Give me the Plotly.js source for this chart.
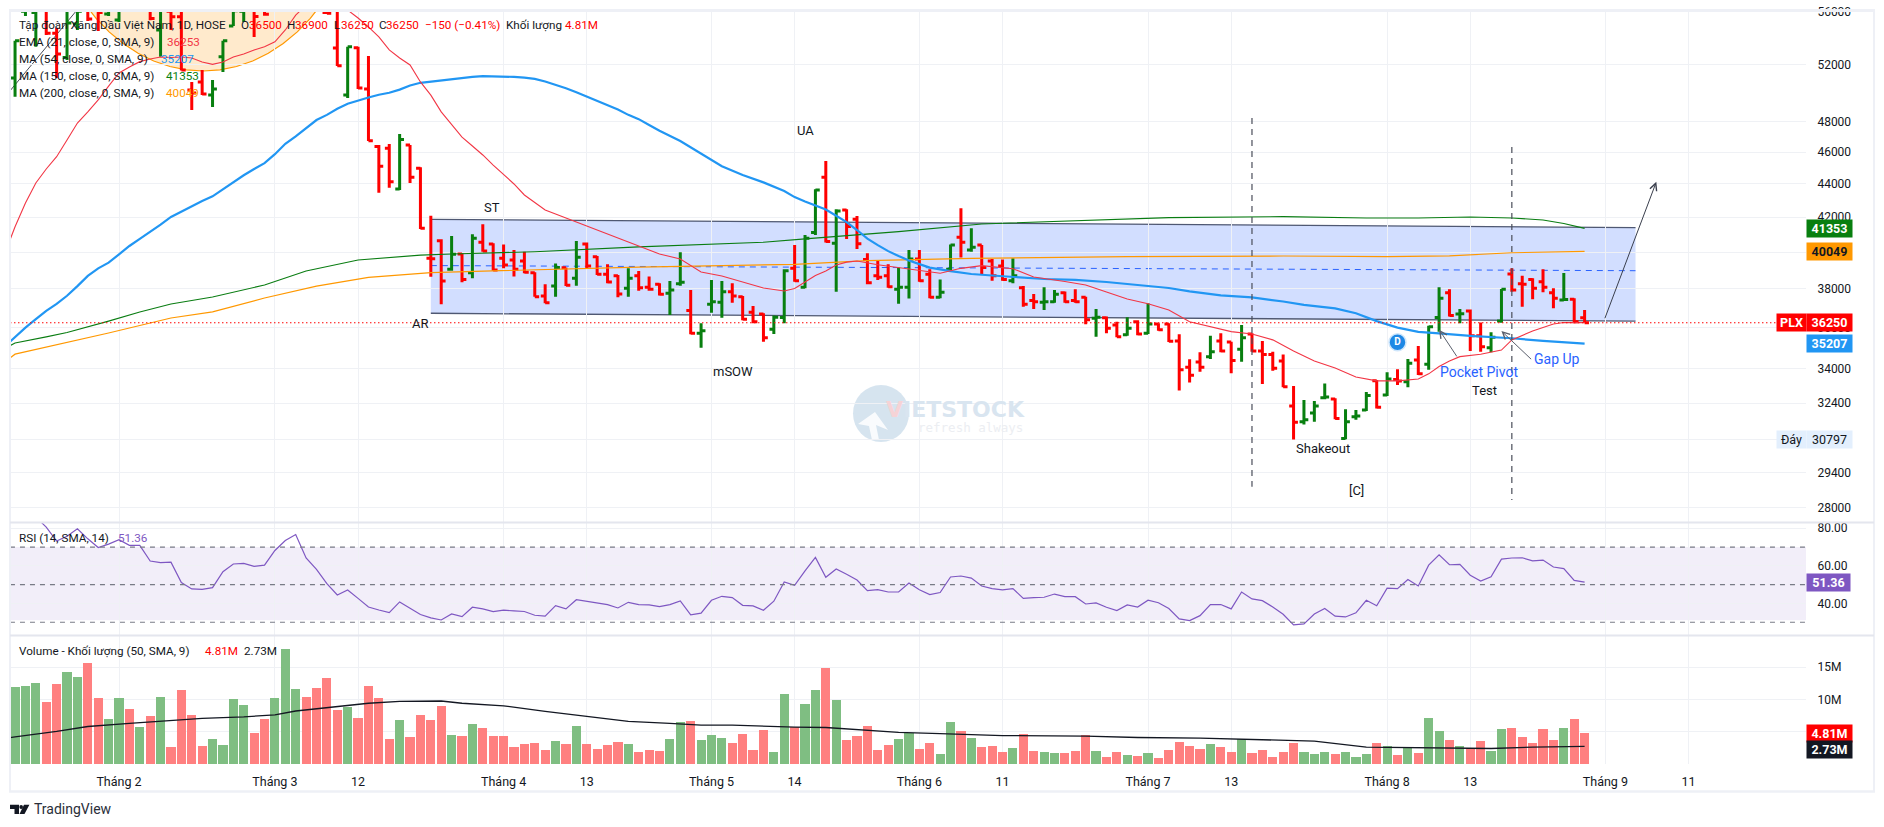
<!DOCTYPE html>
<html><head><meta charset="utf-8">
<script src="https://cdn.plot.ly/plotly-3.0.1.min.js"></script>
<style>html,body{margin:0;padding:0;background:#fff;overflow:hidden}#c{width:1884px;height:827px}</style>
</head><body><div id="c"></div>
<script>
const opens=[51020,56000,55900,57000,54320,52500,55010,57500,57500,55800,55330,57800,57000,57000,54560,56000,55570,50170,50740,49830,
52560,54860,56000,57000,57300,57800,57500,57500,57300,57000,55900,53200,49830,53220,50240,46360,46250,43690,46470,44970,
39660,40650,39060,39900,38870,40560,40460,39660,39570,39510,38870,37630,38150,39140,38570,40460,39750,38790,38710,38030,
38710,38090,38250,37770,38270,36870,35720,37190,37300,37850,37590,36780,36690,35920,36510,39110,38090,41110,44410,40500,
42430,41880,39600,38700,38710,37980,38090,39620,38790,37560,39060,40840,40120,40400,39510,39240,38440,38060,37390,37300,
37330,37800,37390,37560,36470,36500,36130,35640,36300,35720,36180,36180,35340,34060,34310,34570,35340,35290,34930,35680,
34840,34680,34360,32270,31570,31950,32640,32580,30840,31790,32090,33430,32770,33490,33380,34410,34200,36510,37800,36690,
36850,35590,35000,36330,38800,38270,38510,38390,37800,37420,37460,36500];
const highs=[53750,58000,58000,58000,54730,57000,57000,58000,58000,57500,57500,58500,59000,57800,57500,57000,56800,50740,51600,50880,
53750,57000,57500,57800,57800,58800,59000,58300,58000,58000,57000,57000,53300,53300,52610,46470,46520,47180,46470,45040,
42090,40730,40920,39940,41020,41590,40500,40440,40120,40030,38890,38250,39380,39160,40630,40540,39790,39330,38750,39110,
38960,38660,38300,38420,40000,37940,36220,38480,38420,38300,37630,37110,36730,36620,39060,40400,40970,43670,45430,42470,
42470,42070,39940,39510,39340,39160,40120,40120,39060,38510,40440,42530,41360,40400,39620,39600,39660,38150,37730,38090,
37940,37870,37980,37590,36950,36560,36300,36530,36380,37250,36220,36220,35670,34440,34780,35590,35720,35300,36130,35720,
35340,34810,34680,33180,32540,32490,33300,32620,32120,32090,32900,33460,33830,33970,34460,35090,36090,38090,37980,36950,
36930,36260,35770,38000,39110,38710,38570,39060,38030,38850,37510,36900];
const lows=[49710,55630,53300,54180,51020,52320,54560,55250,54480,55630,55170,57000,56800,55300,52560,54560,51550,48790,49830,49000,
51450,54860,55170,54030,55650,57000,57200,56700,56500,56400,55800,51880,49610,50240,46720,43470,43770,43630,44060,41320,
38650,37190,38980,38350,38570,40030,38980,39110,38660,38840,37590,37250,37590,38150,38170,39110,38750,38300,37560,37590,
37910,37910,37650,36640,38170,35670,35000,36760,36500,37280,36380,36220,35300,35680,36220,38390,38040,40970,40540,37850,
40750,40180,38250,38480,38060,37220,37490,38390,37510,37510,38980,39700,40030,38800,38440,38440,38300,37070,36950,36900,
37280,37280,37280,36170,35550,35720,35520,35590,35620,35680,35840,35290,32970,33340,33850,34460,34780,33780,34330,34810,
33280,33900,33120,30790,31450,31570,32570,31680,30800,31650,32040,32160,32720,33230,33120,33700,33940,35800,36560,36220,
34840,34810,34780,36250,37850,37070,37460,37820,36990,37390,36220,36250];
const closes=[53750,57000,57500,54320,52760,55100,56000,55400,55900,57000,57000,57200,58000,55450,57000,55570,51600,49960,49900,50240,
53750,56050,57000,55600,55780,58200,58200,58300,57000,56700,55850,51900,53300,50310,46740,45110,44140,46820,44410,41360,
39640,38420,39880,38510,40790,40070,39020,39290,39060,38890,37590,37280,39160,38190,39720,39240,38790,38370,37730,38570,
38060,37980,37720,37940,38350,35720,35850,37330,37850,37630,36430,36300,35500,36530,38980,38440,40790,43630,40600,42370,
41460,40480,38330,38620,38120,38090,39620,38440,37560,37820,40400,40560,40280,39160,38700,38510,38700,37190,37320,37320,
37720,37330,37330,36400,36530,35970,35550,35970,35680,36180,35890,35320,33940,33680,34060,34810,34840,34380,35500,34840,
34680,34020,33150,31540,31650,32270,32680,31710,31570,31820,32740,32210,33510,33410,34250,33750,36040,37510,36620,36710,
35590,35050,35520,37980,37940,38250,38030,38090,37510,37450,36300,36250];
const volumeM=[11.9,12.06,12.5,9.6,12.4,14.2,13.45,15.6,10.2,6.96,10.2,8.5,5.7,7.4,10.4,2.6,11.4,7.6,2.8,3.9,
2.9,10.05,9.1,4.8,7.0,10.2,17.8,11.6,10.4,11.75,13.3,8.35,8.8,7.1,12.06,10.2,3.9,6.8,4.2,7.6,
6.8,9.0,4.5,4.3,6.2,5.6,4.3,4.3,2.6,3.1,3.25,2.2,3.6,3.1,5.9,3.1,2.3,2.9,3.4,3.1,
1.9,2.2,2.0,3.9,6.5,6.65,3.7,4.5,4.0,3.25,4.6,2.2,5.3,1.9,10.8,5.7,9.3,11.4,14.85,9.9,
3.7,4.3,5.9,2.2,2.9,3.9,4.8,2.3,3.25,1.55,6.5,5.1,4.0,2.6,2.8,1.9,2.5,4.6,2.0,1.9,
1.7,1.7,2.0,4.5,2.0,1.1,1.9,1.4,1.25,1.7,0.95,2.2,3.4,2.8,2.3,3.1,2.6,1.9,3.9,1.7,
2.2,1.1,1.9,3.25,1.9,1.55,1.9,1.55,1.9,1.1,1.55,3.25,2.8,1.4,2.5,1.7,7.1,5.1,3.7,2.8,
2.5,3.55,2.0,5.4,5.55,4.2,3.25,5.4,3.7,5.55,7.0,4.81];
const rsi=[90,88,86,80.6,73.2,75.8,79.7,74.4,69.8,71.6,73.9,70.9,70.9,62.6,61.7,62,51.1,47.7,47.5,48.4,
56.9,61,61.3,59.7,60.4,68.2,73.5,76.7,64.2,58.1,50.5,44.5,47.2,42.7,38.1,36.5,35.1,40.8,37.6,34.1,
32.3,31.2,34.4,33,38,37.1,35.7,36.4,36,35.7,33.7,33.2,38.8,37.1,42,41.2,40.3,39.4,37.6,40.6,
39.4,39.2,38.3,39.4,41.3,33.9,34.8,41.7,43.8,43.1,39,38.7,36.4,41.2,51.4,49.6,57.3,64.5,53.9,58.3,
55.5,52.5,46.8,47.3,46.1,46.1,50.9,47.3,44.7,45.8,54.1,54.6,53.5,49.3,47.9,47.2,47.9,42.7,43.1,43.3,
45,43.6,43.6,39.7,40.3,38,36.2,39.2,38.1,41.7,40.4,37.3,31.8,30.9,33.5,39.4,39.4,37.1,46.1,42.4,
41.5,38.1,34.2,28.6,29.1,34.4,37.3,33.2,32.8,35,41.7,38.8,48.1,47.9,52.7,49.3,60.4,65.9,60.6,60.8,
55,51.9,54.2,63.6,64.2,64.3,62.7,63.1,59.4,58.5,52.3,51.36];
const ema21X=[-0.49,0,1,2,3,4,5,6,7,8,9,10,11,12,13,14,15,16,17,18,19,20,21,22,23,24,25,26,27,28,29,30,31,32,33,34,35,36,37,38,39,40,41,42,43,44,45,46,47,48,49,50,51,52,54,56,58,60,62,64,66,68,70,72,74,75,76,77,78,79,80,81,83,86,89,91,93,96,98,101,103,105,107,109,111,113,115,117,119,121,123,125,127,129,131,133,135,136,137,138,139,141,143,144,146,148,149,151];
const ema21=[40690,41450,42850,44060,44930,45710,46790,47910,48670,49480,50450,51380,51810,52200,52390,52540,52500,52540,52470,52170,52000,52170,52540,52760,53060,53300,53670,54560,55700,56490,56680,56680,56340,56100,55480,54790,54030,53060,52470,51960,50740,49810,48660,47780,46970,46400,45820,45180,44560,44000,43330,42850,42430,42190,41730,41260,40800,40350,39900,39620,38910,38690,38370,38050,37890,38020,38370,38720,38960,39290,39450,39510,39310,39090,38840,39110,39260,39090,38640,38400,38210,37840,37470,37220,36900,36300,36030,35800,35680,35390,34840,34360,34030,33600,33420,33420,33510,33750,34100,34360,34570,34690,34890,35390,35830,36180,36260,36253];
const ma54X=[-0.49,0,1,2,3,4,5,6,7,8,9,10,11,12,13,14,15,16,17,18,19,20,21,22,23,24,25,26,27,28,29,30,31,32,33,34,35,36,37,38,39,40,41,42,43,44,45,46,47,48,49,50,51,52,53,54,55,56,57,58,59,60,61,62,64,66,68,70,72,74,75,76,78,79,80,81,82,83,84,85,86,87,88,90,92,94,96,99,102,105,108,111,113,116,119,122,124,127,129,131,133,135,137,140,144,147,151];
const ma54=[35300,35530,36000,36430,36850,37220,37640,38150,38700,39110,39420,39880,40350,40750,41150,41570,42020,42350,42650,42970,43250,43690,44140,44540,44930,45300,45870,46540,47030,47570,48110,48460,48870,49220,49460,49650,49840,49980,50200,50490,50680,50770,50860,50930,51020,51100,51150,51150,51120,51100,51050,50960,50770,50560,50300,50020,49710,49390,49070,48820,48460,48170,47780,47400,46720,45920,45100,44560,44100,43570,43200,42940,42460,42090,41720,41260,40770,40400,40060,39790,39540,39340,39150,38960,38800,38720,38640,38530,38480,38370,38210,38050,37870,37660,37550,37340,37160,36980,36730,36330,36000,35790,35710,35590,35470,35340,35207];
const ma150X=[-0.49,0,3,5,9,12,15,19,24,28,33,39,42,50,60,72,76,85,93,102,111,122,130,135,140,144,147,149,151];
const ma150=[35100,35240,35540,35760,36330,36800,37210,37570,38210,38960,39570,39840,39900,40030,40300,40560,40750,41170,41610,41780,41980,42040,41960,41960,42020,41960,41840,41640,41353];
const ma200X=[-0.49,0,9,15,19,24,29,34,40,60,75,82,92,107,122,132,138,144,151];
const ma200=[34510,34690,35730,36490,36800,37520,38150,38620,38880,39180,39330,39530,39660,39750,39790,39750,39800,39970,40049];
const volMaX=[-0.49,0,4,7,11,15,18,22,25,27,30,34,37,41,43,47,51,55,59,63,66,69,72,75,78,81,85,89,95,103,108,114,120,125,130,136,142,146,151];
const volMa=[4.07,4.2,5.05,5.8,6.3,6.7,7.05,7.3,7.6,8.2,8.75,9.4,9.7,9.75,9.4,9.0,8.15,7.4,6.6,6.3,6.0,6.0,5.8,5.7,5.65,5.35,4.9,4.7,4.4,4.3,4.1,4.0,3.7,3.55,2.6,2.5,2.4,2.6,2.73];
const dateTickIdx=[10,25,33,47,55,67,75,87,95,109,117,132,140,153,161];
const dateTickText=['Tháng 2','Tháng 3','12','Tháng 4','13','Tháng 5','14','Tháng 6','11','Tháng 7','13','Tháng 8','13','Tháng 9','11'];
const priceTicks=[56000,52000,48000,46000,44000,42000,40000,38000,36000,34000,32400,30800,29400,28000];
const priceTickText=['56000','52000','48000','46000','44000','42000','','38000','36000','34000','32400','','29400','28000'];
const rsiTicks=[80,60,40];
const rsiTickText=['80.00','60.00','40.00'];
const volTicks=[15,10,5];
const volTickText=['15M','10M',''];
const channelX=[40,155.9];
const channelTop=[41880,41400];
const channelBottom=[36730,36330];
const channelMid=[39260,38980];

const W=1884,H=827,TXT='#131722',RED='#ff0000',GRN='#087f0f',ORG='#ff9800',BLU='#2196f3',PUR='#7e57c2',LINK='#2962ff';
const X=p=>p/W, Y=p=>1-p/H, idx=opens.map((_,i)=>i), L10=Math.log10;
const grid='#eff1f5', F='Roboto, sans-serif', LS=11.7;

const traces=[
 {type:'bar',x:idx,y:volumeM,xaxis:'x',yaxis:'y3',width:0.88,hoverinfo:'skip',
  marker:{color:opens.map((o,i)=>closes[i]>o?'#7fbe82':'#ff8080'),line:{width:0}}},
 {type:'scatter',mode:'lines',x:volMaX,y:volMa,xaxis:'x',yaxis:'y3',line:{color:'#131722',width:1.3},hoverinfo:'skip'},
 {type:'scatter',mode:'lines',x:idx,y:rsi,xaxis:'x',yaxis:'y2',line:{color:PUR,width:1.2},hoverinfo:'skip'},
 {type:'ohlc',x:idx,open:opens,high:highs,low:lows,close:closes,xaxis:'x',yaxis:'y',tickwidth:0.42,hoverinfo:'skip',
  increasing:{line:{color:GRN,width:3}},decreasing:{line:{color:RED,width:3}}},
 {type:'scatter',mode:'lines',x:ma200X,y:ma200,xaxis:'x',yaxis:'y',line:{color:ORG,width:1.2},hoverinfo:'skip'},
 {type:'scatter',mode:'lines',x:ma150X,y:ma150,xaxis:'x',yaxis:'y',line:{color:'#0a7d12',width:1.1},hoverinfo:'skip'},
 {type:'scatter',mode:'lines',x:ma54X,y:ma54,xaxis:'x',yaxis:'y',line:{color:BLU,width:2.2},hoverinfo:'skip'},
 {type:'scatter',mode:'lines',x:ema21X,y:ema21,xaxis:'x',yaxis:'y',line:{color:'#f23645',width:1.1},hoverinfo:'skip'},
 {type:'scatter',mode:'markers+text',x:[133],y:[35270],text:['<b>D</b>'],textposition:'middle center',textfont:{color:'#fff',size:10,family:F},xaxis:'x',yaxis:'y',
  marker:{size:17,color:'#1e88e5',line:{color:'#cfe6fb',width:1.5}},hoverinfo:'skip'}
];

const shapes=[];
const seg=(x0,y0,x1,y1,color,width,dash)=>({type:'line',xref:'x',yref:'y',x0,y0,x1,y1,line:{color,width,dash:dash||'solid'},layer:'below'});
shapes.push({type:'path',xref:'x',yref:'y',layer:'below',fillcolor:'rgba(41,98,255,0.21)',line:{width:0},
 path:`M${channelX[0]},${channelTop[0]}L${channelX[1]},${channelTop[1]}L${channelX[1]},${channelBottom[1]}L${channelX[0]},${channelBottom[0]}Z`});
shapes.push(seg(channelX[0],channelTop[0],channelX[1],channelTop[1],'#4f5872',1.3));
shapes.push(seg(channelX[0],channelBottom[0],channelX[1],channelBottom[1],'#4f5872',1.3));
shapes.push(seg(channelX[0],channelMid[0],channelX[1],channelMid[1],LINK,1,'6px,5px'));
// orange drawing tool: ellipse outline, built in bar-index / log-price units and clipped by the pane
(function(){
  let d='';
  for(let a=0;a<=360;a+=6){
    const r=a*Math.PI/180, i=18.1+15.4*Math.cos(r), p=48000*Math.exp((255.7+205*Math.sin(r)*-1)/716);
    d+=(a?'L':'M')+i.toFixed(3)+','+p.toFixed(0);
  }
  shapes.push({type:'path',xref:'x',yref:'y',layer:'below',path:d+'Z',fillcolor:'rgba(255,152,0,0.2)',line:{color:ORG,width:1.2}});
})();
shapes.push(seg(-0.5,50100,5.8,55946,'#4a4e5a',1));
const v1=seg(119,48250,119,28830,'#4a4e5a',1.2,'6px,5px'), v2=seg(144,46330,144,28300,'#4a4e5a',1.2,'6px,5px');
v1.layer='above';v2.layer='above';shapes.push(v1,v2);
const lp=seg(-0.49,36250,172.3,36250,RED,1.1,'1.5px,2.5px');lp.layer='above';shapes.push(lp);
shapes.push({type:'rect',xref:'x',yref:'y2',x0:-0.49,x1:172.3,y0:31,y1:70,layer:'below',fillcolor:'rgba(126,87,194,0.1)',line:{width:0}});
[70,50,30].forEach(v=>shapes.push({type:'line',xref:'x',yref:'y2',x0:-0.49,x1:172.3,y0:v,y1:v,layer:'above',line:{color:'#787b86',width:1.1,dash:'5px,5px'}}));
const frame=(x0,y0,x1,y1,c,w)=>({type:'line',xref:'paper',yref:'paper',x0:X(x0),y0:Y(y0),x1:X(x1),y1:Y(y1),line:{color:c,width:w}});
shapes.push(frame(9,10.5,1875,10.5,'#eef0f6',3),frame(10,10,10,792,'#eef0f6',2),frame(1874,10,1874,792,'#eef0f6',2),frame(9,791.5,1875,791.5,'#eef0f6',2.5));
shapes.push(frame(10,522.5,1874,522.5,'#e4e6ee',2),frame(10,635.5,1874,635.5,'#e4e6ee',2));
shapes.push({type:'circle',xref:'paper',yref:'paper',x0:X(853),x1:X(909),y0:Y(442),y1:Y(385),fillcolor:'rgba(70,130,180,0.22)',line:{width:0},layer:'below'});
shapes.push({type:'path',xref:'paper',yref:'paper',layer:'below',fillcolor:'rgba(255,255,255,0.85)',line:{width:0},
 path:`M${X(872)},${Y(440)}L${X(879)},${Y(440)}L${X(876)},${Y(425)}L${X(888)},${Y(430)}L${X(875)},${Y(412)}L${X(858)},${Y(424)}L${X(869)},${Y(426)}Z`});
shapes.push({type:'path',xref:'paper',yref:'paper',fillcolor:'#131722',line:{width:0},
 path:`M${X(10)},${Y(804.7)}L${X(19)},${Y(804.7)}L${X(19)},${Y(814)}L${X(14.5)},${Y(814)}L${X(14.5)},${Y(809)}L${X(10)},${Y(809)}Z`});
shapes.push({type:'circle',xref:'paper',yref:'paper',fillcolor:'#131722',line:{width:0},x0:X(19.3),x1:X(23),y0:Y(809),y1:Y(805)});
shapes.push({type:'path',xref:'paper',yref:'paper',fillcolor:'#131722',line:{width:0},
 path:`M${X(24)},${Y(804.7)}L${X(29.4)},${Y(804.7)}L${X(24.5)},${Y(814)}L${X(19.5)},${Y(814)}Z`});

const ann=[];
const t=(x,y,text,o={})=>ann.push(Object.assign({xref:'paper',yref:'paper',x:X(x),y:Y(y),xanchor:'left',yanchor:'middle',text,showarrow:false,
  font:{family:F,size:LS,color:TXT},borderpad:0},o));
const col=c=>({font:{family:F,size:LS,color:c}});
t(18,25,'Tập đoàn Xăng Dầu Việt Nam, 1D, HOSE');
t(240,25,'O');t(248,25,'36500',col(RED));t(286,25,'H');t(294,25,'36900',col(RED));t(333,25,'L');t(340,25,'36250',col(RED));
t(377.5,25,'C');t(385,25,'36250',col(RED));t(424,25,'−150 (−0.41%)',col(RED));t(505,25,'Khối lượng');t(564,25,'4.81M',col(RED));
t(18,41.7,'EMA (21, close, 0, SMA, 9)');t(166,41.7,'36253',col('#f23645'));
t(18,59,'MA (54, close, 0, SMA, 9)');t(160,59,'35207',col(BLU));
t(18,76,'MA (150, close, 0, SMA, 9)');t(165,76,'41353',col(GRN));
t(18,93,'MA (200, close, 0, SMA, 9)');t(165,93,'40049',col(ORG));
t(18,537.7,'RSI (14, SMA, 14)');t(117,537.7,'51.36',col(PUR));
t(18,650.7,'Volume - Khối lượng (50, SMA, 9)');t(204,650.7,'4.81M',col(RED));t(243,650.7,'2.73M');
const c=(x,y,text,color,size)=>t(x,y,text,{xanchor:'center',font:{family:F,size:size||13,color:color||TXT}});
c(492,207,'ST');c(805,130,'UA');c(420,323.3,'AR');c(733,371.7,'mSOW');c(1323,448.3,'Shakeout');c(1356,490,'[C]');c(1484,390.7,'Test');
c(1479.4,371.7,'Pocket Pivot',LINK,14);c(1557,359.3,'Gap Up',LINK,14);
t(885,410,'<b><span style="color:#f6d3d6">V</span>IETSTOCK</b>',{font:{family:'DejaVu Sans',size:22,color:'#d9e5f0'}});
t(917,427,'refresh always',{font:{family:'DejaVu Sans Mono',size:12.5,color:'#eceef2'}});
t(33,809,'TradingView',{font:{family:F,size:14,color:'#2a2e39'}});
const arrow=(x,y,ax,ay,color)=>ann.push({xref:'x',yref:'y',axref:'x',ayref:'y',x,y:L10(y),ax,ay:L10(ay),text:'',showarrow:true,arrowhead:5,arrowsize:1.4,arrowwidth:1,arrowcolor:color});
arrow(157.9,44130,152.9,36400,'#3a3f4d');
arrow(137,35900,138.8,34510,'#5a5f6c');
arrow(143,35830,146,34380,'#5a5f6c');
const tag=(x,w,yv,yref,text,bg,fc)=>ann.push({xref:'paper',yref,x:X(x),y:yv,xanchor:'left',yanchor:'middle',width:w,height:16.5,align:'center',text,showarrow:false,bgcolor:bg,borderpad:0,font:{family:F,size:12.5,color:fc}});
tag(1806,45,L10(41353),'y','<b>41353</b>',GRN,'#fff');
tag(1806,45,L10(40049),'y','<b>40049</b>',ORG,'#131722');
tag(1806,45,L10(36250),'y','<b>36250</b>',RED,'#fff');
tag(1776,29,L10(36250),'y','<b>PLX</b>',RED,'#fff');
tag(1806,45,L10(35207),'y','<b>35207</b>',BLU,'#fff');
tag(1806,45,L10(30797),'y','30797','#e3effd','#131722');
tag(1776,29,L10(30797),'y','Đáy','#e3effd','#131722');
tag(1806,43,51.36,'y2','<b>51.36</b>',PUR,'#fff');
tag(1806,45,Y(733),'paper','<b>4.81M</b>',RED,'#fff');
tag(1806,45,Y(749.3),'paper','<b>2.73M</b>','#131722','#fff');

const yCommon={side:'right',tickmode:'array',showline:false,zeroline:false,gridcolor:grid,gridwidth:1,ticks:'outside',ticklen:8,tickcolor:'rgba(0,0,0,0)',
  tickfont:{family:F,size:12,color:TXT},anchor:'x',fixedrange:true};
const layout={width:W,height:H,margin:{l:0,r:0,t:0,b:0},paper_bgcolor:'#fff',plot_bgcolor:'#fff',showlegend:false,bargap:0,dragmode:false,
 font:{family:F,color:TXT},
 xaxis:{domain:[X(10),X(1806)],range:[-0.486,172.3],type:'linear',anchor:'y3',tickmode:'array',tickvals:dateTickIdx,ticktext:dateTickText,
   showline:false,zeroline:false,gridcolor:grid,gridwidth:1,ticks:'outside',ticklen:6,tickcolor:'rgba(0,0,0,0)',tickfont:{family:F,size:12.5,color:TXT},
   rangeslider:{visible:false},fixedrange:true},
 yaxis:Object.assign({},yCommon,{domain:[Y(522),Y(11)],type:'log',range:[4.43840,4.74839],tickvals:priceTicks,ticktext:priceTickText}),
 yaxis2:Object.assign({},yCommon,{domain:[Y(635),Y(522)],range:[23.2,83.35],tickvals:rsiTicks,ticktext:rsiTickText}),
 yaxis3:Object.assign({},yCommon,{domain:[Y(764),Y(635)],range:[0,19.96],tickvals:volTicks,ticktext:volTickText}),
 shapes,annotations:ann};
Plotly.newPlot('c',traces,layout,{displayModeBar:false,staticPlot:true});
</script></body></html>
